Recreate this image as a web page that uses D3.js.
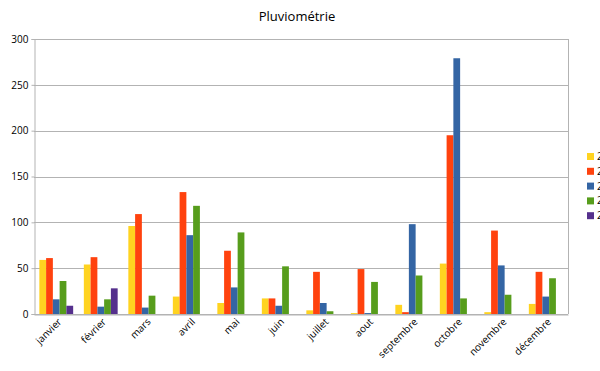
<!DOCTYPE html>
<html>
<head>
<meta charset="utf-8">
<script src="https://cdn.jsdelivr.net/npm/d3@7"></script>
<style>
  body { margin: 0; background: #fff; }
  text { font-family: "Open Sans", sans-serif; fill: #000; }
</style>
</head>
<body>
<div id="chart"></div>
<script>
const months = ["janvier", "février", "mars", "avril", "mai", "juin", "juillet", "aout", "septembre", "octobre", "novembre", "décembre"]
const seriesNames = ["2012", "2013", "2014", "2015", "2016"]
const colors = ["#ffd320", "#ff420e", "#3465a4", "#579d1c", "#55308d"]

const s1 = [59, 54, 96, 19, 12, 17, 4, 1, 10, 55, 2, 11]
const s2 = [61, 62, 109, 133, 69, 17, 46, 49, 2, 195, 91, 46]
const s3 = [16, 8, 7, 86, 29, 9, 12, 1, 98, 279, 53, 19]
const s4 = [36, 16, 20, 118, 89, 52, 3, 35, 42, 17, 21, 39]
const s5 = [9, 28, 0, 0, 0, 0, 0, 0, 0, 0, 0, 0]
const yTicks = [0, 50, 100, 150, 200, 250, 300]

const series = [s1, s2, s3, s4, s5]
const width = 600, height = 371
const m = { left: 34, right: 568, top: 39, bottom: 314 }

const svg = d3.select("#chart").append("svg")
    .attr("width", width)
    .attr("height", height)

const x = d3.scaleBand()
    .domain(months)
    .range([m.left, m.right])
    .paddingInner(0.24)
    .paddingOuter(0.12)

const xs = d3.scaleBand()
    .domain(d3.range(series.length))
    .range([0, x.bandwidth()])

const y = d3.scaleLinear()
    .domain([0, 300])
    .range([m.bottom, m.top])

// grid
svg.append("g")
  .selectAll("line")
  .data(yTicks)
  .join("line")
    .attr("x1", m.left)
    .attr("x2", m.right)
    .attr("y1", d => Math.round(y(d)) + 0.5)
    .attr("y2", d => Math.round(y(d)) + 0.5)
    .attr("stroke", "#b3b3b3")

svg.append("line")
    .attr("x1", m.right + 0.5).attr("x2", m.right + 0.5)
    .attr("y1", m.top).attr("y2", m.bottom)
    .attr("stroke", "#b3b3b3")

// bars
const groups = svg.append("g")
  .selectAll("g")
  .data(series)
  .join("g")
    .attr("fill", (d, i) => colors[i])

groups.selectAll("rect")
  .data((d, i) => d.map((v, j) => ({ v, i, j })))
  .join("rect")
    .filter(d => d.v > 0)
    .attr("x", d => x(months[d.j]) + xs(d.i))
    .attr("width", xs.bandwidth())
    .attr("y", d => y(d.v))
    .attr("height", d => y(0) - y(d.v))

// y axis
const yAxis = svg.append("g")
    .attr("transform", `translate(${m.left + 0.5},0)`)
    .call(d3.axisLeft(y).tickValues(yTicks).tickSize(3).tickPadding(3))
yAxis.select(".domain").attr("stroke", "#b3b3b3")
yAxis.selectAll(".tick line").attr("stroke", "#b3b3b3")
yAxis.selectAll("text")
    .style("font-family", "'Open Sans', sans-serif")
    .style("font-size", "10px")
    .attr("fill", "#000")

// x axis
const xAxis = svg.append("g")
    .attr("transform", `translate(0,${m.bottom + 0.5})`)
    .call(d3.axisBottom(x).tickSize(0).tickPadding(0))
xAxis.select(".domain").attr("stroke", "#b3b3b3")
xAxis.selectAll("text")
    .style("font-family", "'Open Sans', sans-serif")
    .style("font-size", "10px")
    .attr("fill", "#000")
    .attr("text-anchor", "end")
    .attr("dy", "0")
    .attr("transform", "translate(6,8) rotate(-45)")

// title
svg.append("text")
    .attr("x", 297)
    .attr("y", 21)
    .attr("text-anchor", "middle")
    .style("font-size", "13px")
    .text("Pluviométrie")

// legend
const legend = svg.append("g")
  .selectAll("g")
  .data(seriesNames)
  .join("g")
    .attr("transform", (d, i) => `translate(587,${153 + i * 14.8})`)

legend.append("rect")
    .attr("width", 7)
    .attr("height", 7)
    .attr("fill", (d, i) => colors[i])

legend.append("text")
    .attr("x", 10)
    .attr("y", 7)
    .style("font-size", "10px")
    .text(d => d)
</script>
</body>
</html>
